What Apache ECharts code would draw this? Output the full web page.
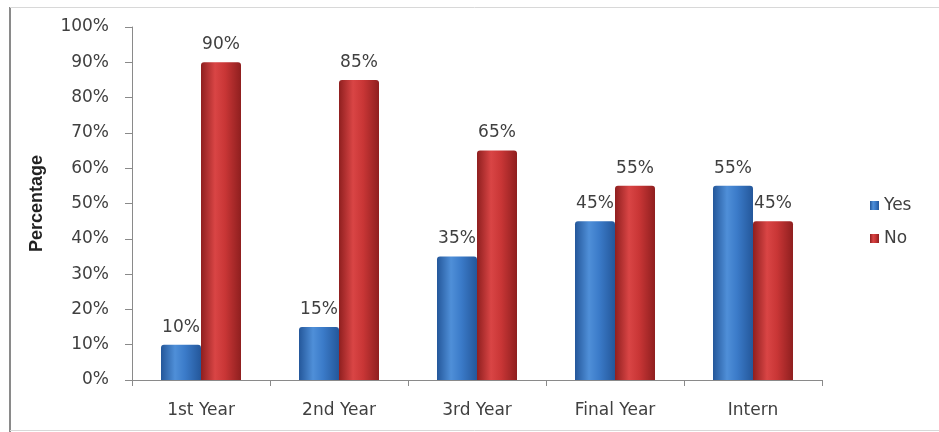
<!DOCTYPE html>
<html><head><meta charset="utf-8">
<script src="https://cdn.jsdelivr.net/npm/echarts@6/dist/echarts.min.js"></script>
<style>html,body{margin:0;padding:0;background:#fff}#c{width:939px;height:432px}</style>
</head><body><div id="c"></div>
<script>
const categories = ['1st Year', '2nd Year', '3rd Year', 'Final Year', 'Intern'];
const yesValues = [10, 15, 35, 45, 55];
const noValues = [90, 85, 65, 55, 45];
const seriesNames = ['Yes', 'No'];

function grad(edge, mid, light) {
  return new echarts.graphic.LinearGradient(0, 0, 1, 0, [
    {offset: 0, color: edge},
    {offset: 0.35, color: light},
    {offset: 0.6, color: mid},
    {offset: 1, color: edge}
  ]);
}
const blue = grad('#24579a', '#3b7bc9', '#4f8fd8');
const red = grad('#8f1f1f', '#c93636', '#d94545');
const font = 'DejaVu Sans, Verdana, sans-serif';
const labelStyle = {show: true, position: 'top', formatter: '{c}%', color: '#404040', fontSize: 17, fontFamily: font, distance: 9};

const chart = echarts.init(document.getElementById('c'));
chart.setOption({
  animation: false,
  graphic: [
    {type: 'line', shape: {x1: 10, y1: 7, x2: 10, y2: 432}, style: {stroke: '#8a8a8a', lineWidth: 2}},
    {type: 'line', shape: {x1: 10, y1: 7.5, x2: 939, y2: 7.5}, style: {stroke: '#d8d8d8', lineWidth: 1}},
    {type: 'line', shape: {x1: 10, y1: 430.5, x2: 939, y2: 430.5}, style: {stroke: '#d8d8d8', lineWidth: 1}}
  ],
  grid: {left: 132, right: 117, top: 27, bottom: 52},
  legend: {
    orient: 'vertical', left: 865, top: 192, itemGap: 16,
    itemWidth: 9, itemHeight: 9, icon: 'rect',
    textStyle: {fontSize: 17, color: '#404040', fontFamily: font},
    data: seriesNames
  },
  xAxis: {
    type: 'category', data: categories,
    axisLine: {lineStyle: {color: '#8a8a8a'}},
    axisTick: {show: true, length: 6, lineStyle: {color: '#8a8a8a'}},
    axisLabel: {fontSize: 17, color: '#404040', fontFamily: font, margin: 22}
  },
  yAxis: {
    type: 'value', min: 0, max: 100, interval: 10,
    name: 'Percentage', nameLocation: 'middle', nameGap: 86, nameRotate: 90,
    nameTextStyle: {fontSize: 18, fontWeight: 'bold', color: '#222', fontFamily: 'Liberation Sans Narrow, Arial Narrow, sans-serif'},
    axisLine: {show: true, lineStyle: {color: '#8a8a8a'}},
    axisTick: {show: true, length: 7, lineStyle: {color: '#8a8a8a'}},
    splitLine: {show: false},
    axisLabel: {formatter: '{value}%', fontSize: 17, color: '#404040', fontFamily: font, margin: 23}
  },
  series: [
    {name: seriesNames[0], type: 'bar', data: yesValues, barWidth: 40, barGap: '0%',
     itemStyle: {color: blue, borderRadius: [3, 3, 0, 0]}, label: labelStyle},
    {name: seriesNames[1], type: 'bar', data: noValues, barWidth: 40, barGap: '0%',
     itemStyle: {color: red, borderRadius: [3, 3, 0, 0]}, label: labelStyle}
  ]
});
</script></body></html>
